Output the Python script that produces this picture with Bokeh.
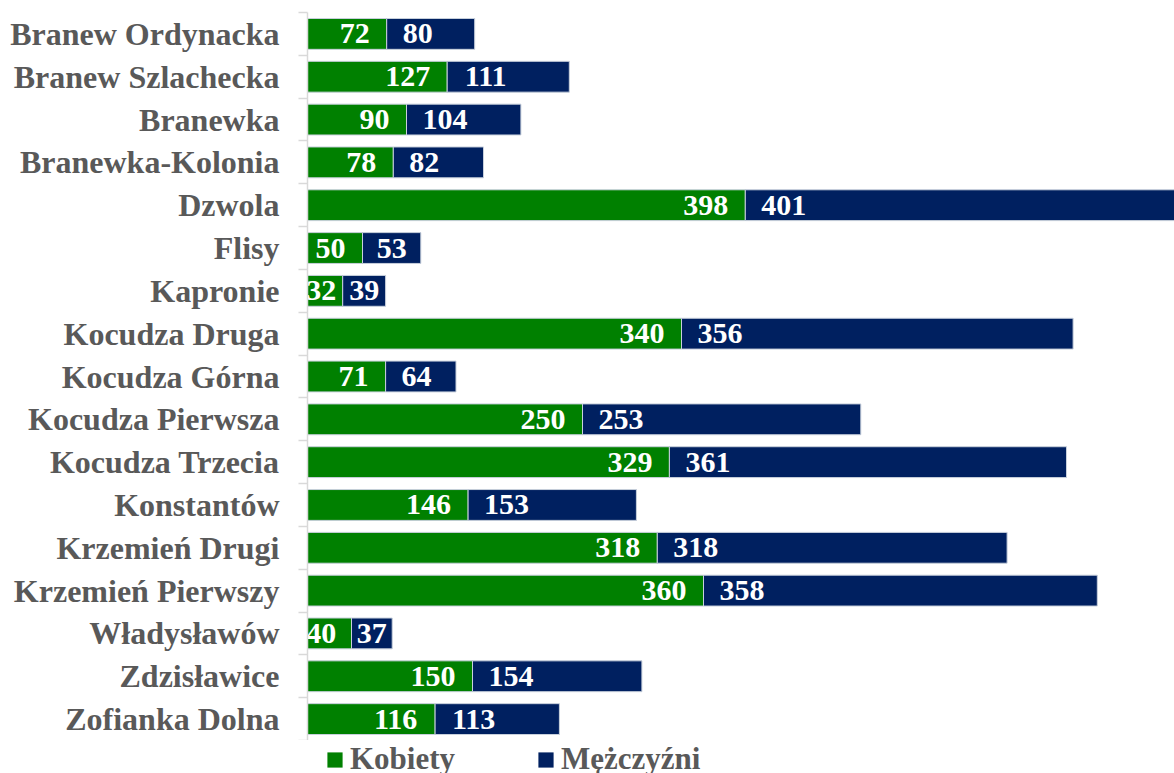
import numpy as np
from bokeh.plotting import figure
from bokeh.layouts import column
from bokeh.models import ColumnDataSource, Range1d, FixedTicker, Legend, LegendItem
from bokeh.embed import file_html
from bokeh.resources import INLINE

categories = ["Branew Ordynacka", "Branew Szlachecka", "Branewka", "Branewka-Kolonia",
              "Dzwola", "Flisy", "Kapronie", "Kocudza Druga", "Kocudza Górna",
              "Kocudza Pierwsza", "Kocudza Trzecia", "Konstantów", "Krzemień Drugi",
              "Krzemień Pierwszy", "Władysławów", "Zdzisławice", "Zofianka Dolna"]
kobiety = [72, 127, 90, 78, 398, 50, 32, 340, 71, 250, 329, 146, 318, 360, 40, 150, 116]
mezczyzni = [80, 111, 104, 82, 401, 53, 39, 356, 64, 253, 361, 153, 318, 358, 37, 154, 113]
series_names = ["Kobiety", "Mężczyźni"]

GREEN = "#008000"
NAVY = "#002060"
GRAY = "#595959"
FONT = "Liberation Serif"

W, H_MAIN, H_LEG = 1174, 740, 33
LEFT, TOP = 307, 12
PX_PER_UNIT = 1.1  # frame width / x range

n = len(categories)
ypos = np.arange(n)
k = np.array(kobiety, dtype=float)
m = np.array(mezczyzni, dtype=float)
kd = np.array([len(str(v)) for v in kobiety])
md = np.array([len(str(v)) for v in mezczyzni])

# label anchors (centre of text): green near bar end, navy near bar start
kx = np.maximum(k - (17 + kd * 7.5) / PX_PER_UNIT, 12.5)
mx = np.minimum(k + (16 + md * 7.5) / PX_PER_UNIT, k + m / 2)

src = ColumnDataSource(dict(
    y=ypos, k=k, tot=k + m,
    kl=[str(v) for v in kobiety], ml=[str(v) for v in mezczyzni],
    kx=kx, mx=mx,
))

p = figure(width=W, height=H_MAIN, output_backend="svg", toolbar_location=None,
           x_range=Range1d(0, (W - LEFT) / PX_PER_UNIT), y_range=Range1d(n - 0.5, -0.5),
           min_border_left=LEFT, min_border_right=0, min_border_top=TOP,
           min_border_bottom=0)
p.outline_line_color = None
p.xgrid.visible = False
p.ygrid.visible = False
p.xaxis.visible = False

bar_line = "#c8d0dc"
p.hbar(y="y", left=0, right="k", height=0.72, source=src,
       fill_color=GREEN, line_color=bar_line, line_width=1)
p.hbar(y="y", left="k", right="tot", height=0.72, source=src,
       fill_color=NAVY, line_color=bar_line, line_width=1)

p.text(x="kx", y="y", text="kl", source=src, text_align="center", text_baseline="middle",
       text_color="white", text_font={"value": FONT},
       text_font_style="bold", text_font_size="30px")
p.text(x="mx", y="y", text="ml", source=src, text_align="center", text_baseline="middle",
       text_color="white", text_font={"value": FONT},
       text_font_style="bold", text_font_size="30px")

ax = p.yaxis[0]
ax.ticker = FixedTicker(ticks=list(ypos), minor_ticks=list(np.arange(n + 1) - 0.5))
ax.major_label_overrides = {int(i): c for i, c in zip(ypos, categories)}
ax.major_tick_out = 0
ax.major_tick_in = 0
ax.minor_tick_out = 9
ax.minor_tick_in = 0
ax.minor_tick_line_color = "#d9d9d9"
ax.axis_line_color = "#d9d9d9"
ax.axis_line_width = 1.5
ax.minor_tick_line_width = 1.5
ax.major_label_standoff = 19
ax.major_label_text_font = FONT
ax.major_label_text_font_style = "bold"
ax.major_label_text_font_size = "32px"
ax.major_label_text_color = GRAY

# legend strip below the chart (hidden copies of the bar series feed the legend)
pl = figure(width=W, height=H_LEG, output_backend="svg", toolbar_location=None,
            x_range=Range1d(0, 1), y_range=Range1d(0, 1),
            min_border_left=LEFT, min_border_right=0, min_border_top=0, min_border_bottom=0)
pl.outline_line_color = None
pl.axis.visible = False
pl.grid.visible = False
g1 = pl.hbar(y="y", left=0, right="k", height=1, source=src, fill_color=GREEN,
             line_color=None, visible=False)
g2 = pl.hbar(y="y", left="k", right="tot", height=1, source=src, fill_color=NAVY,
             line_color=None, visible=False)
legend = Legend(items=[LegendItem(label=series_names[0], renderers=[g1]),
                       LegendItem(label=series_names[1], renderers=[g2])],
                orientation="horizontal", location=(18, -4),
                glyph_width=19, glyph_height=19, label_standoff=6, spacing=81,
                padding=0, margin=0, border_line_color=None, background_fill_alpha=0,
                inactive_fill_alpha=0,
                label_text_font=FONT, label_text_font_style="bold",
                label_text_font_size="31px", label_text_color=GRAY,
                label_height=30)
pl.add_layout(legend, "center")

open("out.html", "w").write(file_html(column(p, pl, spacing=0), INLINE))
